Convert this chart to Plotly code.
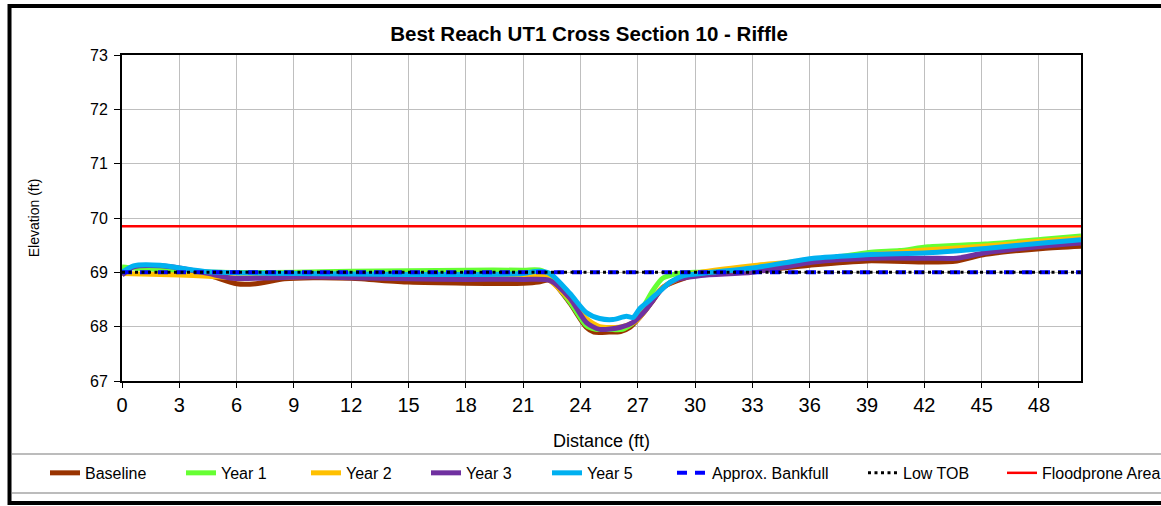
import plotly.graph_objects as go

# Survey data (distance ft, elevation ft)
baseline_x = [0, 0.6, 2, 3.5, 4.5, 6, 7, 8.5, 10, 12, 15, 18, 21, 21.8, 22.3, 22.6, 23.45, 24.3, 24.7, 25.5, 26.1, 26.6, 27.1, 27.8, 28.3, 29.1, 30, 33, 36, 39, 42.2, 43.7, 45.2, 48.2, 50.2]
baseline_y = [69.0, 69.1, 69.08, 69.0, 68.95, 68.79, 68.79, 68.88, 68.9, 68.89, 68.82, 68.8, 68.8, 68.82, 68.86, 68.8, 68.43, 67.99, 67.9, 67.9, 67.91, 67.99, 68.17, 68.48, 68.72, 68.85, 68.95, 69.02, 69.13, 69.21, 69.19, 69.21, 69.33, 69.44, 69.48]

year1_x = [0, 0.6, 3, 5, 9, 12, 15, 18, 21, 22, 23.45, 24.3, 24.8, 25.5, 26.2, 26.8, 27.4, 27.8, 28.3, 29.1, 30, 33, 36, 39.2, 40.7, 42.2, 45.2, 48.2, 50.2]
year1_y = [69.1, 69.08, 69.03, 69.0, 69.0, 69.02, 69.03, 69.04, 69.04, 69.03, 68.45, 68.02, 67.95, 67.95, 67.95, 68.08, 68.43, 68.67, 68.89, 68.98, 69.0, 69.05, 69.2, 69.37, 69.4, 69.47, 69.52, 69.61, 69.67]

year2_x = [0, 1, 3, 4.5, 6, 9, 12, 15, 18, 21, 22, 23.45, 24.3, 25, 26, 26.8, 27.4, 27.8, 28.3, 29.1, 30, 33, 36, 39, 42, 45, 48, 50.2]
year2_y = [68.98, 68.97, 68.95, 68.93, 68.9, 68.92, 68.93, 68.93, 68.93, 68.94, 68.95, 68.5, 68.15, 68.0, 67.99, 68.08, 68.3, 68.52, 68.72, 68.88, 68.98, 69.12, 69.22, 69.32, 69.41, 69.48, 69.57, 69.63]

year3_x = [0, 0.6, 2, 3, 4.5, 5.8, 8, 10, 12, 15, 18, 21, 22.4, 23.45, 24.3, 25, 26.1, 26.75, 27.4, 28.2, 28.9, 30.3, 33, 36.2, 39.2, 42.2, 43.7, 45.2, 48.2, 50.2]
year3_y = [68.95, 69.1, 69.12, 69.08, 68.98, 68.89, 68.9, 68.92, 68.9, 68.88, 68.87, 68.87, 68.85, 68.52, 68.08, 67.95, 67.99, 68.08, 68.3, 68.67, 68.85, 68.94, 69.0, 69.19, 69.26, 69.26, 69.26, 69.36, 69.48, 69.54]

year5_x = [0, 0.6, 2, 3, 4.5, 6, 9, 12, 15, 18, 21, 21.8, 22.4, 23.45, 24.3, 25, 25.7, 26.4, 26.75, 27.1, 27.6, 28.2, 28.7, 29.4, 30.3, 33, 36.2, 37.4, 39.2, 42.2, 45.2, 48.2, 50.2]
year5_y = [69.0, 69.12, 69.13, 69.08, 69.01, 68.99, 68.98, 68.97, 68.96, 68.96, 68.98, 69.02, 68.98, 68.61, 68.26, 68.15, 68.13, 68.19, 68.17, 68.33, 68.48, 68.67, 68.82, 68.94, 68.98, 69.08, 69.26, 69.29, 69.33, 69.36, 69.44, 69.54, 69.6]

ref_x = [0, 50.2]
bankfull_y = [69.0, 69.0]
low_tob_y = [69.0, 69.0]
floodprone_y = [69.85, 69.85]

x_ticks = list(range(0, 49, 3))
y_ticks = list(range(67, 74))

series = [
    ("Baseline", baseline_x, baseline_y, "#993300"),
    ("Year 1", year1_x, year1_y, "#66FF33"),
    ("Year 2", year2_x, year2_y, "#FFC000"),
    ("Year 3", year3_x, year3_y, "#7030A0"),
    ("Year 5", year5_x, year5_y, "#00B0F0"),
]
# legend entry widths so the labels land roughly where Excel put them
entry_w = [91, 80, 75, 76, 80, 146, 96]

fig = go.Figure()

for i, (name, xs, ys, col) in enumerate(series):
    fig.add_trace(go.Scatter(
        x=xs, y=ys, name=name, mode="lines",
        line=dict(color=col, width=5, shape="spline", smoothing=0.7),
        legendwidth=entry_w[i],
    ))

fig.add_trace(go.Scatter(
    x=ref_x, y=bankfull_y, name="Approx. Bankfull", mode="lines",
    line=dict(color="#0000FF", width=4, dash="10px,8px"),
    legendwidth=entry_w[5],
))
fig.add_trace(go.Scatter(
    x=ref_x, y=low_tob_y, name="Low TOB", mode="lines",
    line=dict(color="black", width=3, dash="3px,3.5px"),
    legendwidth=entry_w[6],
))
# last entry in its own legend so the label isn't clipped
fig.add_trace(go.Scatter(
    x=ref_x, y=floodprone_y, name="Floodprone Area", mode="lines",
    line=dict(color="#FF0000", width=2.5),
    legend="legend2",
))

font = "Liberation Sans, Arial, sans-serif"
leg_common = dict(orientation="h", y=-0.282, yanchor="middle", xanchor="left",
                  font=dict(size=16), bgcolor="rgba(0,0,0,0)")

fig.update_layout(
    width=1161, height=506,
    margin=dict(l=122, r=80, t=55, b=125, autoexpand=False),
    paper_bgcolor="white", plot_bgcolor="white",
    font=dict(family=font, color="black"),
    title=dict(text="<b>Best Reach UT1 Cross Section 10 - Riffle</b>",
               x=0.487, xref="paper", xanchor="center", y=1.0, yref="container",
               yanchor="top", pad=dict(t=27), font=dict(size=20.5)),
    showlegend=True,
    legend=dict(x=-0.0803, **leg_common),
    legend2=dict(x=0.9176, **leg_common),
    shapes=[
        # outer chart frame
        dict(type="rect", xref="paper", yref="paper", x0=-0.1173, x1=1.12, y0=-0.3742, y1=1.1503,
             line=dict(color="black", width=4), layer="below"),
        # legend separator lines
        dict(type="line", xref="paper", yref="paper", x0=-0.1147, x1=1.12, y0=-0.224, y1=-0.224,
             line=dict(color="#A6A6A6", width=1.5)),
        dict(type="line", xref="paper", yref="paper", x0=-0.1147, x1=1.12, y0=-0.3436, y1=-0.3436,
             line=dict(color="#A6A6A6", width=1.5)),
    ],
)

fig.update_xaxes(
    range=[0, 50.2], tickvals=x_ticks, ticks="outside", ticklen=5, tickcolor="black",
    tickfont=dict(size=20), showgrid=True, gridcolor="#BFBFBF", gridwidth=1,
    showline=True, linecolor="black", linewidth=2, mirror=True, zeroline=False,
    title=dict(text="Distance (ft)", font=dict(size=18), standoff=19),
)
fig.update_yaxes(
    range=[67, 73], tickvals=y_ticks, ticks="outside", ticklen=6, tickcolor="black",
    tickfont=dict(size=16), ticklabelstandoff=3, showgrid=True, gridcolor="#BFBFBF", gridwidth=1,
    showline=True, linecolor="black", linewidth=2, mirror=True, zeroline=False,
    title=dict(text="Elevation (ft)", font=dict(size=14), standoff=47),
)

# drop the default page margin so the figure sits at the window corner
fig.write_html("out.html", config={"displayModeBar": False},
               post_script="document.body.style.margin='0';")
